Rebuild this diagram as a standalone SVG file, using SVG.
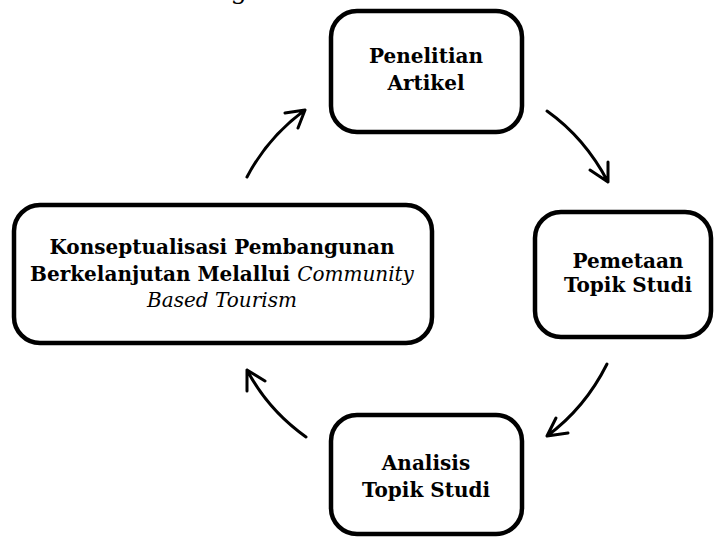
<svg xmlns="http://www.w3.org/2000/svg" width="716" height="538" viewBox="0 0 716 538">
<style>
.box{fill:#fff;stroke:#000;stroke-width:4.5}
.t{font-family:"DejaVu Serif","Liberation Serif",serif;font-weight:bold;font-size:20px;fill:#000;text-anchor:middle}
.it{font-style:italic;font-weight:normal}
.title{font-family:"DejaVu Serif","Liberation Serif",serif;font-size:26px;fill:#000;text-anchor:middle}
.c{fill:none;stroke:#000;stroke-width:3;stroke-linecap:round;stroke-linejoin:round}
</style>
<rect width="716" height="538" fill="#fff"/>
<text class="title" x="372" y="-1">Bagan 1. Proses Penelitian</text>
<g id="connectors">
<path class="c" d="M247,177 Q268,137 305,110 M285,113 L305,110 L298,128"/>
<path class="c" d="M547,111 Q585,138 608,182 M590,170 L608,182 L608,162"/>
<path class="c" d="M607,364 Q585,408 547,436 M556,418 L547,436 L568,433"/>
<path class="c" d="M306,437 Q268,410 247,370 M247,391 L247,370 L265,381"/>
</g>
<g id="n1">
<rect class="box" x="331" y="11" width="191" height="121" rx="26"/>
<text class="t" x="426" y="63">Penelitian</text>
<text class="t" x="426" y="90">Artikel</text>
</g>
<g id="n2">
<rect class="box" x="535" y="212" width="176" height="125" rx="26"/>
<text class="t" x="628" y="268">Pemetaan</text>
<text class="t" x="628" y="292">Topik Studi</text>
</g>
<g id="n3">
<rect class="box" x="14" y="205" width="418" height="138" rx="26"/>
<text class="t" x="222" y="254">Konseptualisasi Pembangunan</text>
<text class="t" x="222" y="281">Berkelanjutan Melallui <tspan class="it">Community</tspan></text>
<text class="t it" x="222" y="307">Based Tourism</text>
</g>
<g id="n4">
<rect class="box" x="331" y="415" width="191" height="119" rx="26"/>
<text class="t" x="426" y="470">Analisis</text>
<text class="t" x="426" y="497">Topik Studi</text>
</g>
</svg>
